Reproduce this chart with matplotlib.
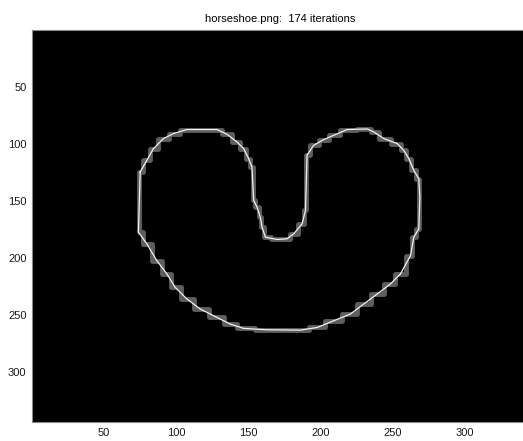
import numpy as np
import matplotlib.pyplot as plt

# contour of the final level set (image coordinates, y pointing down)
contour_x = [75.3, 79.9, 84.5, 91.4, 98.4, 107.6, 128.4, 135.3, 142.3, 146.9,
             150.3, 152.6, 153.8, 156.1, 158.4, 159.6, 161.9, 170.0, 176.9, 181.5,
             187.3, 189.6, 190.7, 195.3, 202.2, 209.2, 218.4, 232.3, 236.9, 243.8,
             253.1, 257.6, 261.1, 264.5, 268.0, 268.7, 268.0, 264.5, 262.3, 255.3,
             248.4, 239.2, 230.0, 220.7, 209.2, 197.7, 186.1, 163.0, 146.8, 137.6,
             128.4, 116.8, 107.6, 99.5, 93.8, 86.8, 79.9, 74.1, 75.3]
contour_y = [124.8, 114.5, 104.3, 95.5, 91.1, 87.6, 87.6, 91.7, 98.5, 104.3,
             113.0, 120.4, 149.6, 155.5, 164.3, 173.0, 181.8, 183.8, 183.2, 178.8,
             170.1, 158.4, 110.0, 101.4, 96.4, 92.6, 87.6, 87.1, 89.7, 95.5,
             99.9, 105.8, 113.0, 123.3, 130.6, 146.7, 174.4, 181.8, 197.9, 213.9,
             222.7, 231.5, 240.2, 249.0, 254.9, 260.8, 263.1, 262.8, 261.6, 257.8,
             252.0, 244.6, 235.8, 225.7, 213.9, 202.3, 187.6, 177.4, 124.8]
img_size = 343
n_iter = 174
xticks = [50, 100, 150, 200, 250, 300]
yticks = [50, 100, 150, 200, 250, 300]

plt.rcParams['font.family'] = ['Liberation Sans', 'DejaVu Sans']

fig = plt.figure(figsize=(5.23, 4.41), dpi=100)
ax = fig.add_axes([32 / 523, 19 / 441, 496 / 523, 392 / 441])
ax.set_facecolor('black')

# blocky gray edge of the object, then the smooth contour on top
ax.plot(contour_x, contour_y, color='#5e5e5e', lw=3.5, drawstyle='steps-mid',
        solid_capstyle='butt')
ax.plot(contour_x, contour_y, color='#f2f2f2', lw=0.9)

ax.set_xlim(0.5, img_size + 0.5)
ax.set_ylim(img_size + 0.5, 0.5)
ax.set_xticks(xticks)
ax.set_yticks(yticks)
ax.tick_params(length=0, labelsize=8, pad=4, colors='#1a1a1a')
for s in ax.spines.values():
    s.set_color('#888888')
    s.set_linewidth(0.8)
ax.set_title(f'horseshoe.png:  {n_iter} iterations', fontsize=8, pad=6)

fig.savefig('out.png', dpi=100)
